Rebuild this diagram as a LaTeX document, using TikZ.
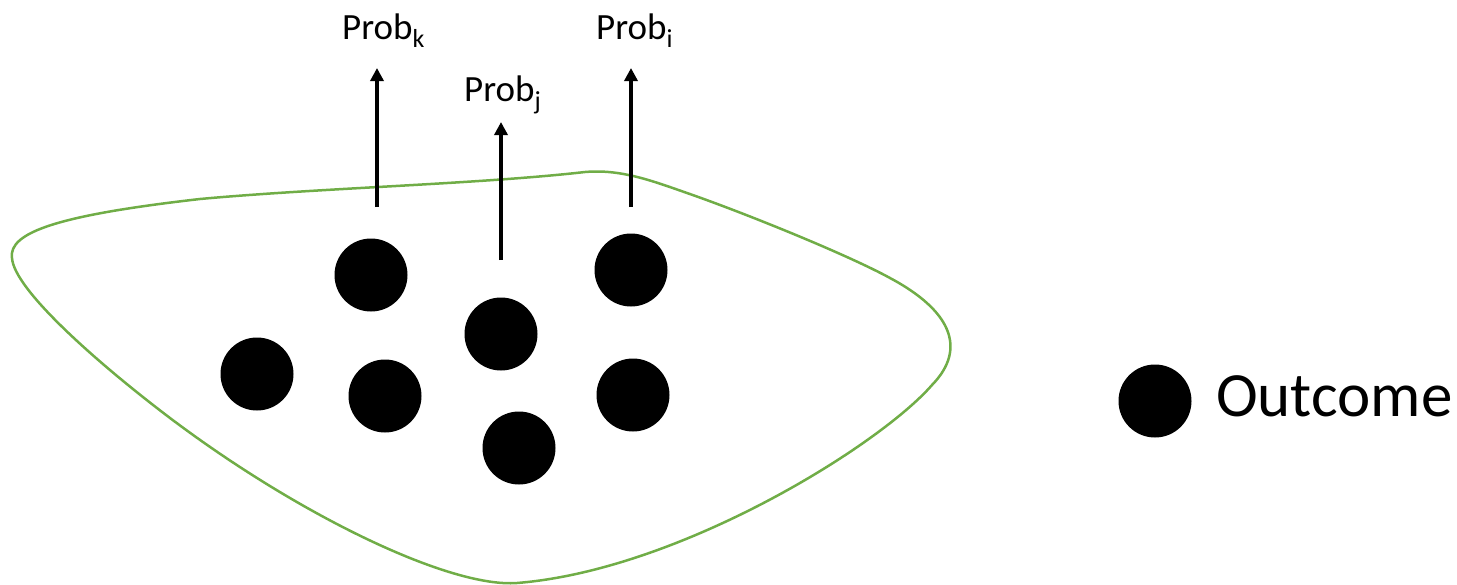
\documentclass[tikz,border=0pt]{standalone}
\usepackage{fontspec}
\setmainfont{Carlito}
\usetikzlibrary{arrows.meta}
\definecolor{blobgreen}{HTML}{70AD47}
\newcommand{\probsub}[1]{\raisebox{-8pt}{\fontsize{26}{26}\selectfont #1}}
\tikzset{
  outcome/.style={circle, fill=black, draw=none, minimum size=73pt, inner sep=0pt},
  problabel/.style={anchor=base west, inner sep=0pt, font=\fontsize{37}{44}\selectfont},
  probarrow/.style={line width=4pt, -{Triangle[width=13pt,length=13pt]}},
  blob/.style={draw=blobgreen, line width=2.5pt}
}
\begin{document}
\begin{tikzpicture}[x=1pt, y=-1pt]
  \useasboundingbox (0,0) rectangle (1457,584);

  % sample space outline
  \draw[blob] (12,258)
    .. controls (8,232) and (60,215) .. (200,199)
    .. controls (320,188) and (480,184) .. (585,172)
    .. controls (620,169) and (650,180) .. (687,193)
    .. controls (750,215) and (850,256) .. (890,278)
    .. controls (950,310) and (968,348) .. (932,385)
    .. controls (880,445) and (680,570) .. (517,583)
    .. controls (450,588) and (300,516) .. (170,418)
    .. controls (100,365) and (14,290) .. (12,258) -- cycle;

  % outcomes
  \node[outcome] (o1) at (371,275) {};
  \node[outcome] (o2) at (257,374) {};
  \node[outcome] (o3) at (385,396) {};
  \node[outcome] (o4) at (501,334) {};
  \node[outcome] (o5) at (631,270) {};
  \node[outcome] (o6) at (633,395) {};
  \node[outcome] (o7) at (519,448) {};

  % probability arrows
  \coordinate (ks) at (377,207);
  \coordinate (kt) at (377,68);
  \coordinate (js) at (501,260);
  \coordinate (jt) at (501,122);
  \coordinate (is) at (631,207);
  \coordinate (it) at (631,68);
  \draw[probarrow] (ks) -- (kt);
  \draw[probarrow] (js) -- (jt);
  \draw[probarrow] (is) -- (it);

  \node[problabel] (pk) at (342,39) {Prob\probsub{k}};
  \node[problabel] (pj) at (464,101) {Prob\probsub{j}};
  \node[problabel] (pi) at (596,39) {Prob\probsub{i}};

  % legend
  \node[outcome] (leg) at (1155,401) {};
  \node[anchor=base west, inner sep=0pt, font=\fontsize{63}{70}\selectfont] (legtext) at (1216,416) {Outcome};
\end{tikzpicture}
\end{document}
